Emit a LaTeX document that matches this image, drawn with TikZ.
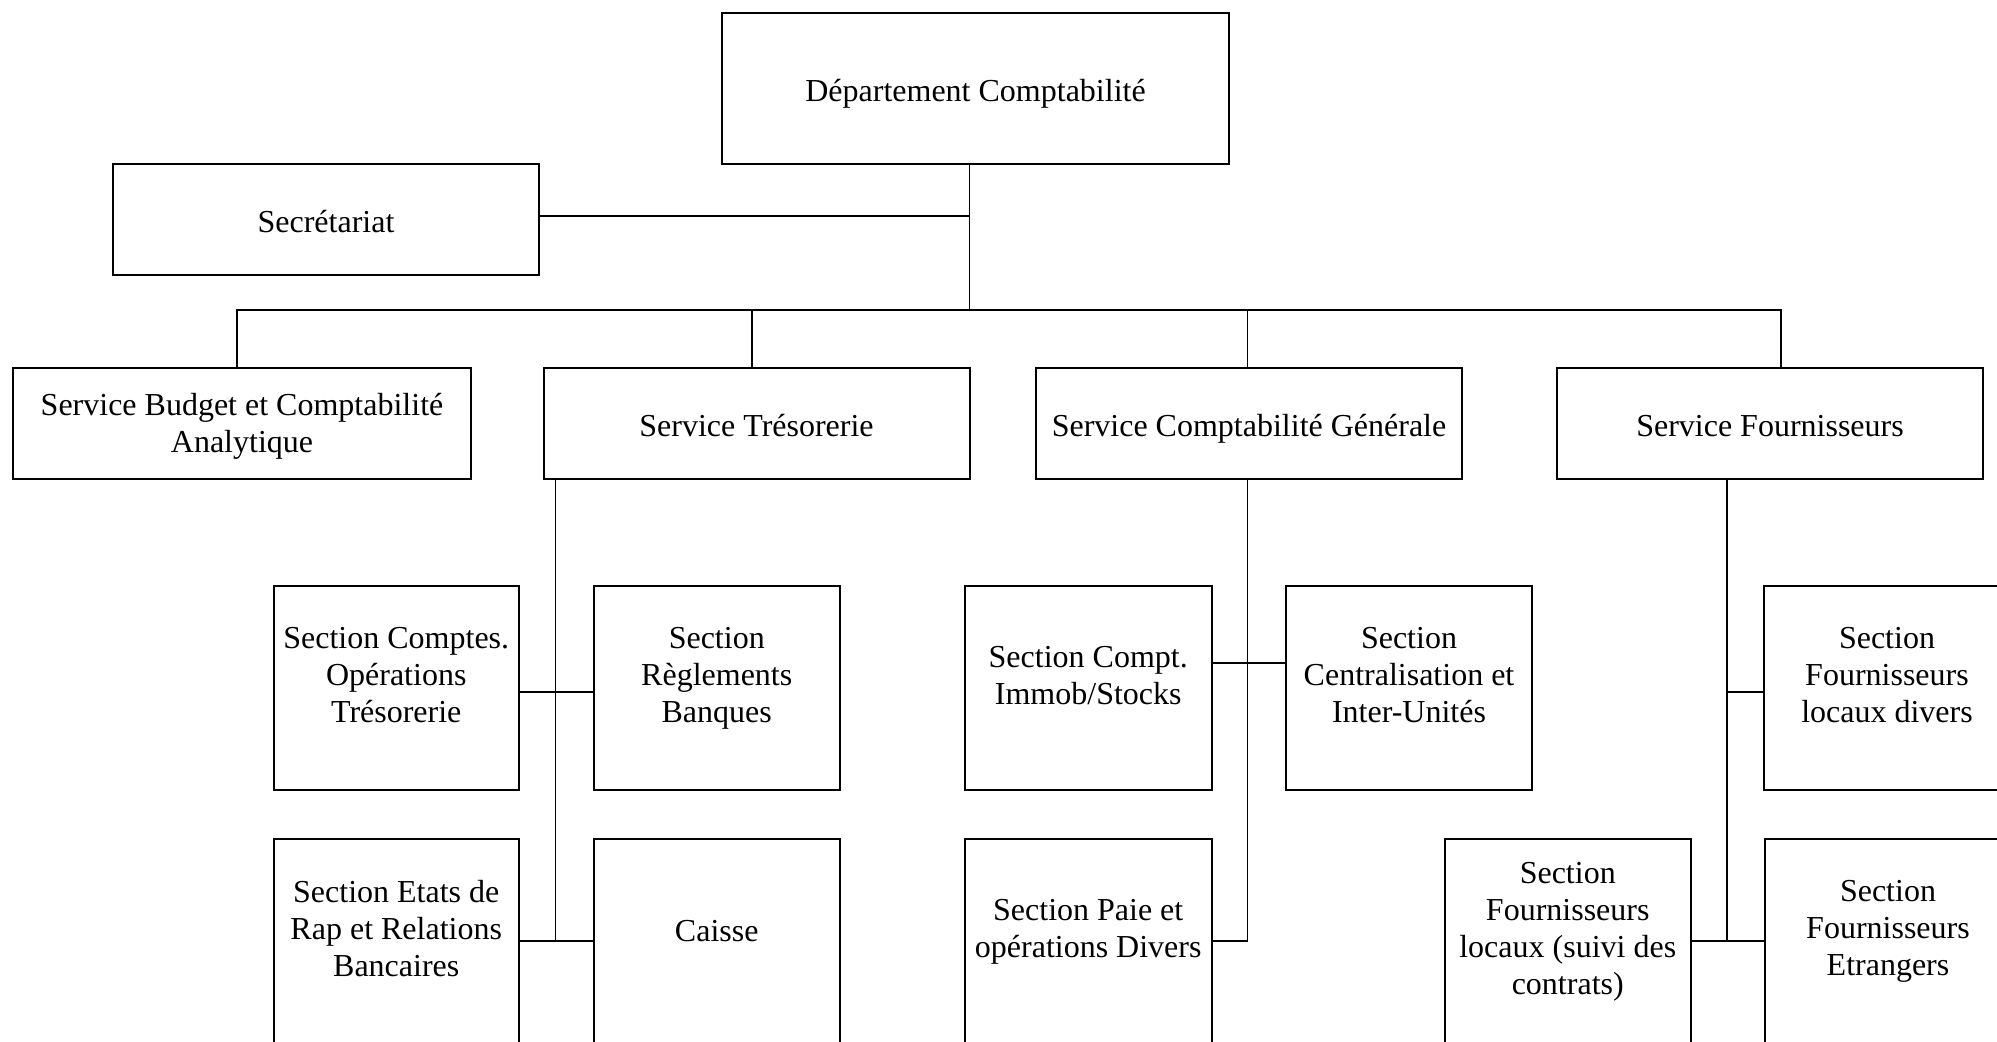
\documentclass[tikz,border=0pt]{standalone}
\usepackage{fontspec}
\setmainfont{Liberation Serif}
\begin{document}
\begin{tikzpicture}[x=0.375pt,y=-0.375pt,
  box/.style 2 args={draw, line width=0.75pt, inner sep=0pt, outer sep=0pt,
    anchor=north west, minimum width=#1*0.375pt, minimum height=#2*0.375pt},
  txt/.style={font=\fontsize{12}{13.85}\selectfont, align=center, inner sep=0pt,
    execute at begin node=\strut, execute at end node=\strut, yshift=-2pt},
  link/.style={line width=0.7pt}]
\useasboundingbox (0,0) rectangle (1997,1041);

% --- department and services
\node[box={507}{151}] (dep) at (722,13) {};
\node[box={426}{111}] (sec) at (113,164) {};
\node[box={458}{111}] (budget) at (13,368) {};
\node[box={426}{111}] (tres) at (543.5,368) {};
\node[box={426}{111}] (cg) at (1036,368) {};
\node[box={426}{111}] (fou) at (1557,368) {};

% --- sections
\node[box={245.5}{204}] (comptes) at (273.5,586) {};
\node[box={245.5}{204}] (regl) at (594,586) {};
\node[box={245.5}{204}] (etats) at (273.5,839) {};
\node[box={245.5}{204}] (caisse) at (594,839) {};
\node[box={246.5}{204}] (immob) at (965,586) {};
\node[box={246}{204}] (central) at (1286,586) {};
\node[box={246.5}{204}] (paie) at (965,839) {};
\node[box={246.5}{204}] (suivi) at (1444.5,839) {};
\node[box={246}{204}] (divers) at (1764,586) {};
\node[box={246}{204}] (etr) at (1765,839) {};

% --- labels
\node[txt] (t-dep) at ([yshift=-0.2pt]dep.center) {Département Comptabilité};
\node[txt] (t-sec) at (sec.center) {Secrétariat};
\node[txt] (t-budget) at (budget.center) {Service Budget et Comptabilité\\Analytique};
\node[txt] (t-tres) at (tres.center) {Service Trésorerie};
\node[txt] (t-cg) at (cg.center) {Service Comptabilité Générale};
\node[txt] (t-fou) at (fou.center) {Service Fournisseurs};

\tikzset{sect/.style={txt, yshift=4.7pt}}
\node[sect] (t-comptes) at (comptes.center) {Section Comptes.\\Opérations\\Trésorerie};
\node[sect] (t-regl) at (regl.center) {Section\\Règlements\\Banques};
\node[sect] (t-etats) at (etats.center) {Section Etats de\\Rap et Relations\\Bancaires};
\node[sect] (t-caisse) at (caisse.center) {Caisse};
\node[sect] (t-immob) at (immob.center) {Section Compt.\\Immob/Stocks};
\node[sect] (t-central) at (central.center) {Section\\Centralisation et\\Inter-Unités};
\node[sect] (t-paie) at (paie.center) {Section Paie et\\opérations Divers};
\node[sect] (t-suivi) at (suivi.center) {Section\\Fournisseurs\\locaux (suivi des\\contrats)};
\node[sect] (t-divers) at (divers.center) {Section\\Fournisseurs\\locaux divers};
\node[sect] (t-etr) at (etr.center) {Section\\Fournisseurs\\Etrangers};

% --- junction points
\coordinate (trunk) at (969.5,310);
\coordinate (sjoin) at (969.5,216);
\coordinate (busL) at (237,310);
\coordinate (dT) at (752,310);
\coordinate (dG) at (1247.5,310);
\coordinate (busR) at (1781,310);
\coordinate (vT) at (555.5,941);
\coordinate (vG) at (1247.5,941);
\coordinate (vF) at (1727,941);

% --- top level links
\draw[link] (trunk |- dep.south) -- (trunk);
\draw[link] (sec.east |- sjoin) -- (sjoin);
\draw[link] (busL |- budget.north) -- (busL) -- (busR) -- (busR |- fou.north);
\draw[link] (dT) -- (dT |- tres.north);
\draw[link] (dG) -- (dG |- cg.north);

% --- Trésorerie sections
\draw[link] (vT |- tres.south) -- (vT);
\draw[link] (comptes.east |- 0,692) -- (regl.west |- 0,692);
\draw[link] (etats.east |- vT) -- (caisse.west |- vT);

% --- Comptabilité Générale sections
\draw[link] (vG |- cg.south) -- (vG) -- (paie.east |- vG);
\draw[link] (immob.east |- 0,663) -- (central.west |- 0,663);

% --- Fournisseurs sections
\draw[link] (vF |- fou.south) -- (vF);
\draw[link] (vF |- 0,692) -- (divers.west |- 0,692);
\draw[link] (suivi.east |- vF) -- (etr.west |- vF);
\end{tikzpicture}
\end{document}
